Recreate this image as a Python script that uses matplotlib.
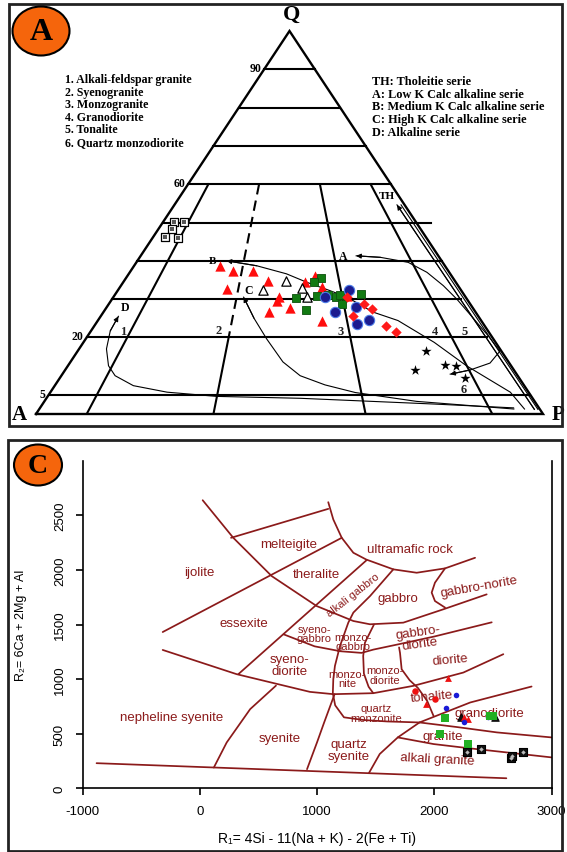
import matplotlib
matplotlib.use("Agg")
import matplotlib.pyplot as plt
from matplotlib.patches import Ellipse, Rectangle
import numpy as np

W, H = 567, 853
SERIF = ['Liberation Serif', 'DejaVu Serif']
SANS = ['Liberation Sans', 'DejaVu Sans']
BROWN = '#8b1a1a'
plt.rcParams['axes.unicode_minus'] = False

# ---------------- panel A : QAP diagram, samples as (Q %, P %), A = 100 - Q - P ----------------
red_tri_q = [38.6, 37.4, 37.4, 34.8, 32.6, 30.5, 29.4, 26.6, 27.8, 36.1, 34.4, 33.1, 24.2, 30.9]
red_tri_p = [17.0, 20.2, 24.1, 28.3, 21.4, 32.6, 32.8, 32.7, 36.1, 37.0, 35.9, 39.9, 44.4, 45.9]
open_tri_q = [34.8, 32.4, 32.8, 30.5]
open_tri_p = [31.9, 28.6, 36.0, 38.3]
green_sq_q = [35.6, 34.4, 30.3, 27.1, 30.9, 30.5, 28.7, 31.3, 31.1, 31.1]
green_sq_p = [38.5, 37.6, 36.1, 39.7, 39.9, 43.9, 46.0, 48.4, 42.1, 44.5]
blue_q = [32.4, 30.5, 26.6, 27.9, 23.5, 24.6]
blue_p = [45.6, 41.8, 45.7, 49.2, 51.6, 53.4]
diam_q = [28.7, 27.4, 25.6, 23.0, 21.3, 30.5]
diam_p = [50.3, 52.5, 49.7, 57.6, 60.4, 46.1]
star_q = [16.5, 11.6, 12.8, 12.6, 9.3]
star_p = [68.7, 69.0, 74.3, 76.5, 79.9]
box_q = [50.1, 50.2, 48.3, 46.1, 45.9]
box_p = [2.1, 4.0, 2.7, 2.4, 5.1]

# field boundaries
grid_q = [5, 20, 30, 40, 50, 60, 70, 80, 90]
grid_q_right = {20: 88.9, 30: 83.8, 50: 78.0}   # right ends (x) where not on the P-Q side
ratio_lines = [10, 35, 65, 90]                   # 100*P/(A+P)
q_labels = [90, 60, 20, 5]
field_nums = ['1', '2', '3', '4', '5', '6']
field_q = [21.7, 22.0, 21.7, 21.6, 21.6, 6.5]
field_p = [6.4, 25.0, 49.2, 67.9, 73.7, 81.2]

# series trends (Q %, P %)
trend_B_q = [40.0, 38.7, 36.6, 34.4, 32.2, 30.5, 26.6, 24.4, 18.7, 12.6, 5.7, 1.3]
trend_B_p = [17.6, 24.2, 31.1, 36.2, 41.9, 46.1, 53.2, 59.2, 69.2, 78.6, 90.7, 95.7]
trend_C_q = [30.5, 25.0, 19.6, 13.6, 10.0, 7.6, 5.6, 3.3, 2.2, 1.3]
trend_C_p = [25.7, 30.5, 35.7, 41.9, 47.1, 53.2, 60.2, 73.4, 84.5, 93.6]
trend_D_q = [25.5, 21.7, 17.0, 12.6, 10.0, 7.4, 5.7, 4.6, 4.1, 2.6, 1.6]
trend_D_p = [3.5, 3.8, 5.4, 8.0, 10.6, 15.5, 23.0, 33.3, 50.1, 77.2, 93.4]
trend_A_q = [41.3, 40.9, 39.6, 37.0, 33.5, 30.0, 25.3, 20.4, 16.4, 13.3, 11.5, 10.4]
trend_A_p = [42.5, 47.5, 53.6, 58.6, 63.6, 68.0, 73.4, 79.0, 83.3, 82.9, 79.9, 76.5]
trend_TH1_q = [54.6, 1.2]
trend_TH1_p = [43.9, 97.7]
trend_TH2_q = [54.6, 1.2]
trend_TH2_p = [44.7, 98.4]

legend_rocks = ['1. Alkali-feldspar granite', '2. Syenogranite', '3. Monzogranite',
                '4. Granodiorite', '5. Tonalite', '6. Quartz monzodiorite']
legend_series = ['TH: Tholeitie serie', 'A: Low K Calc alkaline serie',
                 'B: Medium K Calc alkaline serie', 'C: High K Calc alkaline serie',
                 'D: Alkaline serie']

# ---------------- panel C : R1-R2 diagram (De la Roche) ----------------
bounds = {
    'base': ([-880, 2615], [230, 92]),
    'neph': ([120, 230, 430, 650], [190, 420, 725, 940]),
    'sy_qsy': ([915, 1000, 1060, 1150], [175, 420, 600, 862]),
    'h': ([1443, 1535, 1689, 1874, 2307, 2830], [140, 314, 466, 603, 786, 932]),
    'L6': ([-316, 315, 940, 1140, 1480, 1821, 2248, 2589], [1267, 1045, 883, 862, 871, 938, 1060, 1228]),
    'P1': ([25, 286, 614, 997, 1310, 1452, 1736, 2077, 2447], [2638, 2294, 1943, 1669, 1532, 1502, 1517, 1639, 1776]),
    'P2': ([267, 1096], [2294, 2559]),
    'P3': ([1096, 1139, 1211, 1310, 1420, 1651, 1850, 2092, 2348], [2620, 2462, 2294, 2157, 2095, 2005, 1974, 2014, 2111]),
    'P4': ([-316, 1211], [1431, 2294]),
    'P5': ([1424, 329], [2090, 1045]),
    'P6': ([1651, 1452, 1310, 1267, 1196, 1153, 1139, 1135, 1155, 1230, 1400, 1600, 1874],
           [2005, 1760, 1609, 1517, 1303, 1121, 999, 870, 760, 650, 625, 612, 603]),
    'gn': ([2092, 2006, 1978, 2006, 2092], [2014, 1883, 1792, 1715, 1655]),
    'mg': ([715, 980, 1200, 1380, 1480, 1700, 2000, 2490], [1410, 1300, 1255, 1240, 1270, 1320, 1390, 1520]),
    'd': ([1486, 1409, 1394, 1400, 1440, 1480], [1500, 1334, 1212, 1050, 930, 871]),
    'e': ([1700, 1708, 1722, 1790, 1860, 1940, 1995], [1290, 1240, 1090, 990, 920, 800, 660]),
    'g': ([1874, 2200, 2533, 3000], [603, 560, 512, 466]),
    'i': ([1689, 1995, 2303, 3000], [466, 405, 366, 283]),
}
rock_names = ['melteigite', 'ultramafic rock', 'ijolite', 'theralite', 'alkali gabbro', 'gabbro',
              'gabbro-norite', 'essexite', 'syeno-\ngabbro', 'monzo-\ngabbro', 'gabbro-\ndiorite',
              'syeno-\ndiorite', 'monzo-\nnite', 'monzo-\ndiorite', 'diorite', 'tonalite',
              'quartz\nmonzonite', 'nepheline syenite', 'syenite', 'quartz\nsyenite',
              'granodiorite', 'granite', 'alkali granite']
rock_r1 = [762, 1795, 0, 993, 1310, 1687, 2384, 376, 977, 1303, 1872, 762, 1255, 1579, 2134, 1980,
           1502, -241, 678, 1270, 2473, 2072, 2026]
rock_r2 = [2233, 2187, 1980, 1959, 1776, 1745, 1852, 1517, 1418, 1345, 1380, 1128, 1006, 1037, 1182, 847,
           687, 649, 457, 352, 685, 481, 268]
rock_rot = [0, 0, 0, 0, 38, 0, 10, 0, 0, 0, 8, 0, 0, 0, 5, 5, 0, 0, 0, 0, 0, 0, -3]
rock_size = [9.5, 9.5, 9.5, 9.5, 8, 9.5, 9.5, 9.5, 8, 8, 9.5, 9.5, 8, 8, 9.5, 9.5, 8, 9.5, 9.5, 9.5,
             9.5, 9.5, 9.5]

c_red_tri_r1 = [2118, 1933, 2257, 2292]
c_red_tri_r2 = [1014, 771, 649, 636]
c_red_dot_r1 = [1835, 2010]
c_red_dot_r2 = [893, 816]
c_blue_r1 = [2186, 2103, 2257, 2458]
c_blue_r2 = [856, 731, 603, 649]
c_green_r1 = [2094, 2051, 2288, 2473, 2504]
c_green_r2 = [640, 496, 405, 664, 664]
c_black_sq_r1 = [2277, 2399, 2655, 2665, 2754]
c_black_sq_r2 = [335, 359, 280, 292, 335]
c_black_tri_r1 = [2228, 2519]
c_black_tri_r2 = [652, 652]


fig = plt.figure(figsize=(W / 100, H / 100), dpi=100)


def px_axes(x0, y0, x1, y1):
    # box given in image pixels (origin top-left)
    return fig.add_axes([x0 / W, 1 - y1 / H, (x1 - x0) / W, (y1 - y0) / H])


def xy(q, p):
    q = np.asarray(q, float)
    p = np.asarray(p, float)
    return p + q / 2, q


def arrow_at(ax, xs, ys, color='k'):
    ax.annotate('', xy=(xs[0], ys[0]), xytext=(xs[1], ys[1]),
                arrowprops=dict(arrowstyle='-|>', color=color, lw=0.8, mutation_scale=7,
                                shrinkA=0, shrinkB=0))


# outer frames and the orange letters
fig.patches.append(Rectangle((9 / W, 1 - 427 / H), 553 / W, 422 / H, transform=fig.transFigure,
                             fill=False, lw=2, ec='#222222'))
fig.patches.append(Rectangle((8 / W, 1 - 852 / H), 554 / W, 411 / H, transform=fig.transFigure,
                             fill=False, lw=2, ec='#222222'))
for cx, cy, w, h, letter, fs in [(41, 32, 57, 49, 'A', 23), (38, 466, 48, 41, 'C', 20)]:
    fig.patches.append(Ellipse((cx / 100, (H - cy) / 100), w / 100, h / 100,
                               transform=fig.dpi_scale_trans, fc='#f5650c', ec='k', lw=1.5))
    fig.text(cx / W, 1 - (cy + 1) / H, letter, fontsize=fs, fontweight='bold', family=SERIF,
             ha='center', va='center')

# ---------------- panel A ----------------
axA = px_axes(36, 32, 543, 415)
axA.set_xlim(0, 100)
axA.set_ylim(0, 100)
axA.axis('off')

axA.plot([0, 100, 50, 0], [0, 0, 100, 0], color='k', lw=1.7, clip_on=False, solid_joinstyle='miter')
for q in grid_q:
    axA.plot([q / 2, grid_q_right.get(q, 100 - q / 2)], [q, q], color='k', lw=1.5, clip_on=False)
for r in ratio_lines:
    x60, y60 = xy(60, r * 0.4)
    x20, y20 = xy(20, r * 0.8)
    x0, y0 = xy(0, r)
    if r == 35:
        axA.plot([x60, x20], [y60, y20], color='k', lw=1.5, ls=(0, (5, 3)))
        axA.plot([x20, x0], [y20, y0], color='k', lw=1.5)
    else:
        axA.plot([x60, x0], [y60, y0], color='k', lw=1.5)

for tq, tp, arrow in [(trend_B_q, trend_B_p, True), (trend_C_q, trend_C_p, True),
                      (trend_D_q, trend_D_p, True), (trend_A_q, trend_A_p, True),
                      (trend_TH1_q, trend_TH1_p, True), (trend_TH2_q, trend_TH2_p, False)]:
    tx, ty = xy(tq, tp)
    axA.plot(tx, ty, color='k', lw=0.8)
    if arrow:
        arrow_at(axA, tx[:2], ty[:2])
tx, ty = xy(trend_A_q, trend_A_p)
arrow_at(axA, tx[::-1][:2], ty[::-1][:2])

sx, sy = xy(red_tri_q, red_tri_p)
axA.scatter(sx, sy, marker='^', s=55, c='#ff0d0d', lw=0, zorder=5)
sx, sy = xy(open_tri_q, open_tri_p)
axA.scatter(sx, sy, marker='^', s=45, c='white', edgecolors='k', lw=0.9, zorder=5)
sx, sy = xy(green_sq_q, green_sq_p)
axA.scatter(sx, sy, marker='s', s=38, c='#127a12', edgecolors='#0b4f0b', lw=0.6, zorder=6)
sx, sy = xy(blue_q, blue_p)
axA.scatter(sx, sy, marker='o', s=55, c='#1b1b8f', edgecolors='#4a7ae6', lw=0.8, zorder=6)
sx, sy = xy(diam_q, diam_p)
axA.scatter(sx, sy, marker='D', s=28, c='#ff1a1a', lw=0, zorder=6)
sx, sy = xy(star_q, star_p)
axA.scatter(sx, sy, marker='*', s=60, c='k', lw=0, zorder=6)
sx, sy = xy(box_q, box_p)
axA.scatter(sx, sy, marker='s', s=30, c='white', edgecolors='k', lw=0.9, zorder=6, clip_on=False)
axA.scatter(sx, sy, marker='s', s=6, c='#555555', lw=0, zorder=7, clip_on=False)

tfont = dict(family=SERIF, fontweight='bold')
axA.text(50.5, 104.5, 'Q', fontsize=16, ha='center', va='center', **tfont)
axA.text(-3.3, 0, 'A', fontsize=15, ha='center', va='center', **tfont)
axA.text(103.0, 0, 'P', fontsize=15, ha='center', va='center', **tfont)
for q in q_labels:
    axA.text(q / 2 - 0.6, q + 0.3, str(q), fontsize=8.5, ha='right', va='center', **tfont)
fx, fy = xy(field_q, field_p)
for s, x, y in zip(field_nums, fx, fy):
    axA.text(x, y, s, fontsize=9, ha='center', va='center', color='#222222', **tfont)
axA.text(34.9, 40.0, 'B', fontsize=8, ha='center', va='center', **tfont)
axA.text(41.9, 32.5, 'C', fontsize=8.5, ha='center', va='center', **tfont)
axA.text(60.6, 41.3, 'A', fontsize=8.5, ha='center', va='center', **tfont)
axA.text(69.2, 57.0, 'TH', fontsize=8, ha='center', va='center', **tfont)
axA.text(17.6, 28.0, 'D', fontsize=8.5, ha='center', va='center', **tfont)

for k, s in enumerate(legend_rocks):
    axA.text(5.7, 87.5 - 3.3 * k, s, fontsize=8.6, ha='left', va='center', **tfont)
for k, s in enumerate(legend_series):
    axA.text(66.2, 87.0 - 3.35 * k, s, fontsize=8.8, ha='left', va='center', **tfont)

# ---------------- panel C ----------------
axC = px_axes(82.5, 461.7, 551.5, 789.3)
axC.set_xlim(-1000, 3000)
axC.set_ylim(0, 3000)
for name, (bx, by) in bounds.items():
    axC.plot(bx, by, color=BROWN, lw=1.25, solid_capstyle='round')
for s, x, y, rot, fs in zip(rock_names, rock_r1, rock_r2, rock_rot, rock_size):
    axC.text(x, y, s, color=BROWN, fontsize=fs, ha='center', va='center', rotation=rot,
             family=SANS, linespacing=0.95)

axC.scatter(c_red_tri_r1, c_red_tri_r2, marker='^', s=24, c='#ee1111', lw=0, zorder=5)
axC.scatter(c_red_dot_r1, c_red_dot_r2, marker='o', s=22, c='#ee1111', lw=0, zorder=5)
axC.scatter(c_blue_r1, c_blue_r2, marker='o', s=16, c='#1a1ad6', lw=0, zorder=5)
axC.scatter(c_green_r1, c_green_r2, marker='s', s=30, c='#22b022', lw=0, zorder=5)
axC.scatter(c_black_tri_r1, c_black_tri_r2, marker='^', s=30, c='#111111', edgecolors='k', lw=0.6, zorder=4)
axC.scatter(c_black_sq_r1, c_black_sq_r2, marker='s', s=32, c='#111111', edgecolors='k', lw=0.8, zorder=5)
axC.scatter(c_black_sq_r1, c_black_sq_r2, marker='D', s=5, c='#bbbbbb', lw=0, zorder=6)

axC.spines['top'].set_visible(False)
for sp in ['left', 'bottom', 'right']:
    axC.spines[sp].set_linewidth(1.2)
axC.set_xticks([-1000, 0, 1000, 2000, 3000])
axC.set_yticks([0, 500, 1000, 1500, 2000, 2500])
axC.tick_params(axis='x', direction='out', length=5, width=1.2, pad=7, labelsize=9.5)
axC.tick_params(axis='y', direction='out', length=5, width=1.2, pad=7, labelsize=9.5, labelrotation=90)
for lab in axC.get_xticklabels() + axC.get_yticklabels():
    lab.set_family(SANS)
for lab in axC.get_yticklabels():
    lab.set_va('center')
axC.set_xlabel('R\u2081= 4Si - 11(Na + K) - 2(Fe + Ti)', fontsize=10, family=SANS, labelpad=10)
axC.set_ylabel('R\u2082= 6Ca + 2Mg + Al', fontsize=9, family=SANS, labelpad=19)

fig.savefig('out.png', dpi=100)
